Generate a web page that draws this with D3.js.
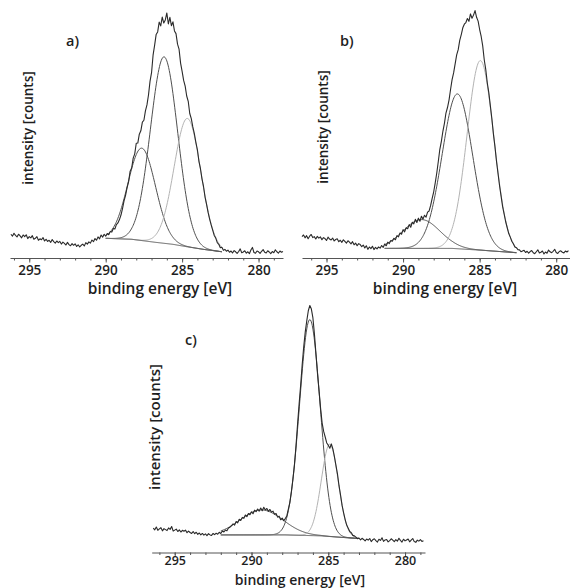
<!DOCTYPE html>
<html>
<head>
<meta charset="utf-8">
<script src="https://cdn.jsdelivr.net/npm/d3@7"></script>
<style>
  html, body { margin: 0; padding: 0; background: #fff; }
  svg { display: block; }
  text { font-family: "Open Sans", sans-serif; font-weight: 600; fill: #1e1e1e; }
</style>
</head>
<body>
<svg id="chart" width="570" height="588"></svg>
<script>
// ---- C 1s spectra: counts sampled every 0.1 eV, starting at the high binding-energy end ----
const STEP = 0.1;

const startA = 296.2;
const countsA = [
  9.9, 9.1, 10.3, 9.4, 8.8, 9.9, 9.2, 8.4, 9.6, 8.9,
  9.7, 8.1, 8.9, 8.4, 9.3, 7.8, 8.2, 8.9, 7.4, 8.0,
  7.6, 8.5, 7.1, 7.8, 6.9, 7.4, 6.5, 7.7, 6.8, 6.2,
  7.1, 6.4, 6.9, 5.8, 6.6, 6.1, 5.4, 6.5, 5.6, 5.1,
  6.0, 5.3, 5.9, 4.8, 5.5, 4.6, 5.3, 5.8, 5.0, 6.4,
  5.8, 6.7, 6.2, 7.5, 6.8, 8.1, 7.4, 8.8, 8.0, 9.6,
  8.7, 9.9, 9.1, 10.2, 9.7, 11.0, 10.8, 12.3, 12.1, 13.9,
  14.6, 16.0, 17.9, 20.6, 23.8, 26.1, 29.3, 31.8, 36.2, 37.5,
  41.6, 43.4, 47.8, 47.9, 51.6, 53.0, 56.6, 57.4, 61.3, 63.8,
  67.9, 73.6, 77.2, 84.5, 88.6, 93.1, 94.2, 98.3, 96.7, 100.4,
  97.9, 99.2, 102.1, 97.5, 100.3, 96.8, 98.4, 94.6, 93.5, 89.1,
  87.0, 81.2, 77.8, 74.0, 71.6, 67.5, 65.3, 60.2, 58.1, 54.6,
  51.8, 48.2, 45.1, 40.3, 37.2, 33.0, 29.8, 25.4, 22.3, 19.0,
  16.2, 13.8, 11.6, 9.4, 8.3, 6.4, 5.7, 4.3, 4.5, 3.2,
  3.6, 2.8, 3.3, 2.4, 2.9, 2.1, 3.1, 2.6, 1.9, 2.7,
  3.8, 2.2, 2.5, 3.0, 2.0, 2.6, 1.8, 3.3, 4.4, 2.3,
  2.0, 2.9, 2.6, 1.9, 2.8, 3.5, 2.4, 2.1, 3.0, 2.5,
  1.8, 2.7, 2.2, 3.4, 2.6, 2.0, 2.9, 2.4, 2.7
];

const startB = 296.6;
const countsB = [
  8.9, 9.6, 8.4, 9.3, 8.0, 9.1, 9.8, 8.5, 8.9, 7.9,
  9.0, 8.3, 8.8, 7.6, 8.5, 8.1, 7.3, 8.7, 7.9, 7.5,
  8.3, 7.1, 7.7, 8.0, 6.8, 7.4, 6.5, 7.6, 6.9, 6.2,
  7.2, 6.6, 5.9, 6.8, 5.5, 6.2, 5.1, 6.0, 5.6, 4.7,
  5.4, 4.2, 5.1, 3.6, 4.6, 3.9, 4.9, 3.5, 4.4, 3.8,
  4.6, 4.1, 5.2, 4.4, 5.8, 5.1, 6.6, 6.0, 7.3, 7.0,
  8.2, 7.6, 9.3, 8.8, 10.4, 9.9, 11.8, 10.9, 12.6, 12.2,
  13.9, 12.8, 14.9, 14.2, 16.1, 14.8, 16.6, 15.3, 17.4, 16.2,
  17.8, 17.0, 19.1, 19.6, 21.9, 24.8, 27.6, 31.3, 35.4, 40.2,
  45.3, 48.6, 52.8, 56.1, 60.4, 62.7, 65.8, 70.2, 74.3, 77.1,
  80.9, 84.6, 86.8, 90.7, 93.1, 95.9, 97.4, 98.1, 99.8, 98.6,
  101.7, 99.9, 101.2, 103.1, 100.3, 98.7, 95.2, 92.3, 88.4, 82.6,
  78.5, 72.9, 68.8, 63.4, 57.9, 51.6, 46.4, 40.3, 35.2, 30.1,
  25.8, 21.4, 18.3, 15.1, 12.6, 10.2, 8.7, 7.0, 5.9, 4.6,
  4.3, 3.5, 3.4, 2.6, 2.9, 3.2, 2.3, 2.8, 2.0, 2.7,
  3.1, 2.2, 1.8, 2.6, 3.4, 2.1, 2.4, 2.9, 1.7, 2.5,
  2.0, 3.3, 2.6, 2.2, 2.8, 3.6, 2.3, 1.9, 2.7, 3.0,
  2.4, 2.1, 2.9, 2.5, 3.1
];

const startC = 296.4;
const countsC = [
  11.8, 11.1, 12.3, 10.9, 11.5, 12.0, 10.7, 11.6, 11.2, 10.8,
  11.9, 11.3, 12.5, 10.6, 11.0, 11.4, 10.4, 11.1, 10.2, 10.9,
  10.5, 11.0, 9.9, 10.6, 10.0, 9.6, 10.4, 9.5, 10.1, 9.2,
  9.8, 9.0, 9.6, 8.9, 9.4, 8.7, 9.5, 9.0, 8.8, 9.6,
  9.1, 9.7, 9.3, 10.1, 9.6, 10.6, 10.2, 11.0, 10.7, 11.9,
  12.2, 12.9, 13.6, 13.1, 14.6, 14.0, 15.5, 15.0, 16.3, 15.9,
  17.3, 16.6, 17.9, 17.4, 18.6, 17.8, 19.3, 18.7, 19.8, 18.9,
  20.2, 19.1, 20.5, 19.4, 20.0, 18.8, 19.6, 18.5, 18.9, 17.6,
  17.9, 16.4, 16.8, 15.3, 16.0, 14.9, 15.8, 16.9, 19.7, 22.6,
  27.1, 32.4, 38.3, 46.2, 55.1, 63.4, 71.2, 79.8, 87.3, 93.5,
  98.2, 102.4, 104.6, 103.1, 99.4, 92.6, 84.3, 76.1, 69.0, 61.7,
  55.6, 52.1, 49.8, 47.3, 46.4, 45.1, 46.9, 44.8, 41.6, 38.0,
  34.3, 29.5, 25.6, 21.3, 18.2, 15.4, 13.1, 11.8, 10.4, 9.9,
  8.8, 8.6, 8.1, 7.4, 7.7, 6.9, 7.6, 7.1, 6.5, 7.3,
  6.8, 7.5, 6.2, 7.0, 7.4, 6.6, 6.0, 7.2, 6.7, 7.8,
  6.3, 6.9, 7.1, 6.1, 6.6, 7.4, 6.8, 6.2, 7.0, 6.4,
  7.6, 6.7, 6.0, 7.2, 6.5, 6.9, 7.3, 6.1, 6.8, 7.5,
  6.2, 5.9, 6.8, 6.4, 7.0, 6.3, 6.6
];

// ---- fitted components: [centre eV, height above background, sigma eV] ----
const peaksA = [[287.64, 38.5, 0.90], [286.18, 77.7, 0.89], [284.65, 53.5, 0.87]];
const peaksB = [[288.8, 12.0, 1.20], [286.45, 64.5, 1.00], [284.95, 79.0, 0.87]];
const peaksC = [[289.35, 10.4, 1.38], [286.2, 90.0, 0.67], [284.9, 38.5, 0.55]];

// ---- background knots: [eV, counts] ----
const backgroundA = [[290.0, 8.2], [288.3, 7.8], [286.7, 6.5], [285.6, 5.7], [284.7, 4.7], [283.6, 3.6], [282.4, 2.6]];
const backgroundB = [[291.2, 4.0], [286.8, 4.0], [284.8, 3.2], [282.6, 2.2]];
const backgroundC = [[292.0, 9.0], [287.8, 9.0], [285.5, 8.6], [284.2, 8.0], [283.0, 7.5]];

const energyTicks = [295, 290, 285, 280];
const minorTicks = [296, 295, 294, 293, 292, 291, 290, 289, 288, 287, 286, 285, 284, 283, 282, 281, 280, 279];
const panelLabels = ["a)", "b)", "c)"];
const xTitle = "binding energy [eV]";
const yTitle = "intensity [counts]";

// ---- layout (zeroY: pixel row of zero counts; axisY: row of the energy axis) ----
const layout = [
  { domain: [296.26, 278.4], x0: 10, x1: 283, zeroY: 258, axisY: 258, majorLen: 4.5, tickPad: 2.5, tickSize: 13.5, titleX: 160, titleY: 294, titleSize: 15.5, yTitleX: 33, yTitleY: 128, yTitleSize: 13.5, labelX: 66, labelY: 46 },
  { domain: [296.6, 279.1], x0: 302, x1: 570, zeroY: 258, axisY: 258, majorLen: 4.5, tickPad: 2.5, tickSize: 13.5, titleX: 445, titleY: 294, titleSize: 15.5, yTitleX: 328, yTitleY: 127, yTitleSize: 13.5, labelX: 340, labelY: 46 },
  { domain: [296.5, 278.7], x0: 151.7, x1: 425, zeroY: 556.5, axisY: 552.5, majorLen: 4, tickPad: 0, tickSize: 12.5, titleX: 300, titleY: 584.5, titleSize: 14, yTitleX: 160, yTitleY: 427, yTitleSize: 15, labelX: 185, labelY: 345 }
];

const panels = [
  { start: startA, counts: countsA, peaks: peaksA, background: backgroundA },
  { start: startB, counts: countsB, peaks: peaksB, background: backgroundB },
  { start: startC, counts: countsC, peaks: peaksC, background: backgroundC }
];

const peakColors = ["#4f4f4f", "#4f4f4f", "#b3b3b3"];

const svg = d3.select("#chart");
svg.append("rect").attr("width", 570).attr("height", 588).attr("fill", "#fff");

panels.forEach((p, k) => {
  const L = layout[k];
  const g = svg.append("g");
  const x = d3.scaleLinear().domain(L.domain).range([L.x0, L.x1]);
  const y = d3.scaleLinear().domain([0, 100]).range([L.zeroY, L.zeroY - 240]);

  const bgE = p.background.map(d => d[0]);
  const bg = d3.scaleLinear().domain(bgE).range(p.background.map(d => d[1])).clamp(true);
  const hi = bgE[0], lo = bgE[bgE.length - 1];
  const grid = d3.range(hi, lo - 1e-6, -0.04);

  const line = d3.line().x(d => x(d[0])).y(d => y(d[1]));

  // fitted components sitting on the background
  p.peaks.forEach((pk, j) => {
    const [c, h, s] = pk;
    const pts = grid.map(e => [e, bg(e) + h * Math.exp(-((e - c) ** 2) / (2 * s * s))]);
    g.append("path").attr("d", line(pts))
      .attr("fill", "none").attr("stroke", peakColors[j]).attr("stroke-width", 1);
  });

  // background
  g.append("path").attr("d", line(grid.map(e => [e, bg(e)])))
    .attr("fill", "none").attr("stroke", "#5a5a5a").attr("stroke-width", 1);

  // measured spectrum
  const spec = p.counts.map((v, i) => [p.start - i * STEP, v]);
  g.append("path").attr("d", line(spec))
    .attr("fill", "none").attr("stroke", "#2a2a2a").attr("stroke-width", 1.1)
    .attr("stroke-linejoin", "round");

  // energy axis with minor ticks
  const minor = g.append("g").attr("transform", `translate(0,${L.axisY})`)
    .call(d3.axisBottom(x).tickValues(minorTicks.filter(t => t <= L.domain[0] && t >= L.domain[1]))
      .tickSize(2.5).tickSizeOuter(0).tickFormat(""));
  minor.select(".domain").attr("stroke", "#555");
  minor.selectAll(".tick line").attr("stroke", "#555");

  const major = g.append("g").attr("transform", `translate(0,${L.axisY})`)
    .call(d3.axisBottom(x).tickValues(energyTicks).tickSize(L.majorLen).tickSizeOuter(0).tickPadding(L.tickPad)
      .tickFormat(d3.format("d")));
  major.select(".domain").remove();
  major.selectAll(".tick line").attr("stroke", "#555");
  major.selectAll(".tick text").attr("font-size", L.tickSize).attr("font-family", "'Open Sans', sans-serif")
    .attr("font-weight", 600).attr("fill", "#1e1e1e");

  g.append("text").attr("x", L.titleX).attr("y", L.titleY).attr("text-anchor", "middle")
    .attr("font-size", L.titleSize).text(xTitle);

  g.append("text").attr("transform", `translate(${L.yTitleX},${L.yTitleY}) rotate(-90)`)
    .attr("text-anchor", "middle").attr("font-size", L.yTitleSize).text(yTitle);

  g.append("text").attr("x", L.labelX).attr("y", L.labelY).attr("font-size", 14.5)
    .attr("font-weight", 700).text(panelLabels[k]);
});
</script>
</body>
</html>
